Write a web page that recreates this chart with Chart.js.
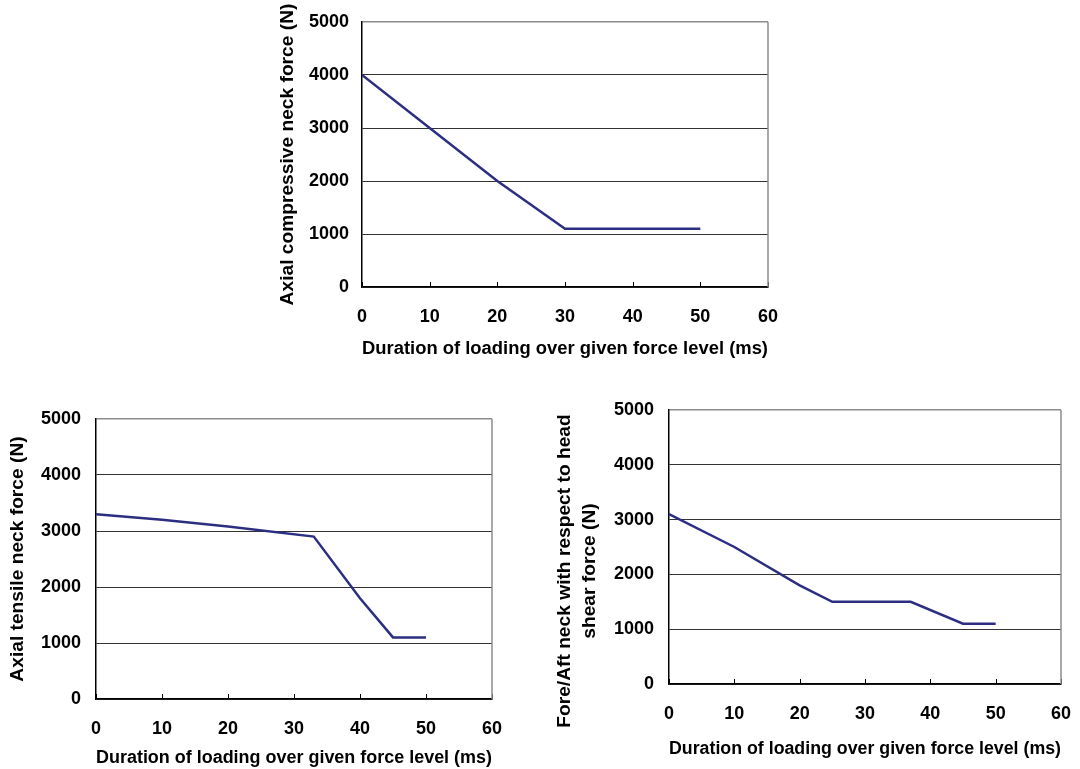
<!DOCTYPE html>
<html>
<head>
<meta charset="utf-8">
<script src="https://cdn.jsdelivr.net/npm/chart.js@4.4.1/dist/chart.umd.min.js"></script>
<style>
    body { margin: 0; background: #fff; width: 1080px; height: 769px; overflow: hidden; position: relative; }
    .box { position: absolute; }
</style>
</head>
<body>
<div class="box" style="left:270px; top:0px; width:510px; height:370px;"><canvas id="chart-comp"></canvas></div>
<div class="box" style="left:0px; top:390px; width:520px; height:379px;"><canvas id="chart-tens"></canvas></div>
<div class="box" style="left:550px; top:390px; width:530px; height:379px;"><canvas id="chart-shear"></canvas></div>
<script>
const xTicks = [0, 10, 20, 30, 40, 50, 60];
const yTicks = [0, 1000, 2000, 3000, 4000, 5000];

const compX = [0, 10, 20, 30, 40, 50];
const compY = [4000, 3000, 2000, 1100, 1100, 1100];

const tensX = [0, 10, 20, 33, 40, 45, 50];
const tensY = [3300, 3200, 3080, 2900, 1800, 1100, 1100];

const shearX = [0, 10, 20, 25, 37, 45, 50];
const shearY = [3100, 2500, 1800, 1500, 1500, 1100, 1100];

const xTitle = 'Duration of loading over given force level (ms)';
const lineColor = '#2c2e82';
const fontFamily = '"Liberation Sans", Arial, sans-serif';

// tick marks pointing into the plot + grey right border
const framePlugin = {
    id: 'frame',
    afterDraw(chart) {
        const { ctx, chartArea: a, scales } = chart;
        ctx.save();
        ctx.strokeStyle = '#000';
        ctx.lineWidth = 1;
        xTicks.forEach(v => {
            const px = Math.round(scales.x.getPixelForValue(v)) + 0.5;
            ctx.beginPath();
            ctx.moveTo(px, a.bottom);
            ctx.lineTo(px, a.bottom - 5);
            ctx.stroke();
        });
        ctx.strokeStyle = '#8c8c8c';
        ctx.lineWidth = 1.5;
        ctx.beginPath();
        ctx.moveTo(a.right, a.top);
        ctx.lineTo(a.right, a.bottom);
        ctx.stroke();

        // y title drawn by hand when it is not centred on the plot
        const st = chart.options.sideTitle;
        if (st) {
            ctx.fillStyle = '#000';
            ctx.font = 'bold 19.2px ' + fontFamily;
            ctx.textAlign = 'center';
            ctx.textBaseline = 'middle';
            st.lines.forEach((t, i) => {
                ctx.save();
                ctx.translate(st.x + i * st.gap, st.y);
                ctx.rotate(-Math.PI / 2);
                ctx.fillText(t, 0, 0);
                ctx.restore();
            });
        }
        ctx.restore();
    }
};

// keep chart area fixed: no extra room for overflowing tick labels
function noOverflow(s) {
    s.paddingLeft = 0; s.paddingRight = 0;
    s.paddingTop = 0; s.paddingBottom = 0;
}

function makeChart(id, xs, ys, yTitle, lay) {
    const ctx = document.getElementById(id).getContext('2d');
    return new Chart(ctx, {
        type: 'line',
        data: {
            datasets: [{
                data: xs.map((x, i) => ({ x: x, y: ys[i] })),
                borderColor: lineColor,
                borderWidth: 2.5,
                pointRadius: 0,
                tension: 0,
                fill: false
            }]
        },
        options: {
            responsive: true,
            maintainAspectRatio: false,
            animation: false,
            sideTitle: lay.side || null,
            layout: { padding: { top: lay.top, right: lay.right, left: 0, bottom: 0 } },
            plugins: { legend: { display: false }, tooltip: { enabled: false } },
            scales: {
                x: {
                    type: 'linear',
                    min: 0, max: 60,
                    afterBuildTicks: s => { s.ticks = xTicks.map(v => ({ value: v })); },
                    afterFit: s => { s.height = lay.xh; noOverflow(s); },
                    grid: { drawOnChartArea: false, drawTicks: false },
                    border: { color: '#000', width: 1.5 },
                    ticks: {
                        color: '#000', padding: 19, maxRotation: 0,
                        callback: v => String(v),
                        font: { family: fontFamily, size: 18, weight: 'bold' }
                    },
                    title: {
                        display: true, text: xTitle, color: '#000',
                        padding: { top: 0, bottom: lay.xtPad },
                        font: { family: fontFamily, size: 19.2, weight: 'bold', lineHeight: 1.2 }
                    }
                },
                y: {
                    min: 0, max: 5000,
                    afterBuildTicks: s => { s.ticks = yTicks.map(v => ({ value: v })); },
                    afterFit: s => { s.width = lay.yw; noOverflow(s); },
                    grid: {
                        drawTicks: false,
                        color: c => c.tick && c.tick.value === 5000 ? '#8c8c8c' : '#333',
                        lineWidth: c => c.tick && c.tick.value === 5000 ? 1.5 : 1
                    },
                    border: { color: '#000', width: 1.5 },
                    ticks: {
                        color: '#000', padding: lay.ytick,
                        callback: v => String(v),
                        font: { family: fontFamily, size: 18, weight: 'bold' }
                    },
                    title: {
                        display: !lay.side, text: yTitle, color: '#000',
                        padding: { top: lay.ytPad, bottom: 0 },
                        font: { family: fontFamily, size: 19.2, weight: 'bold', lineHeight: 1.2 }
                    }
                }
            }
        },
        plugins: [framePlugin]
    });
}

makeChart('chart-comp', compX, compY, 'Axial compressive neck force (N)',
    { top: 22, right: 12, xh: 83, yw: 92, xtPad: 10, ytPad: 6, ytick: 13 });
makeChart('chart-tens', tensX, tensY, 'Axial tensile neck force (N)',
    { top: 29, right: 28, xh: 70, yw: 96, xtPad: 0, ytPad: 6, ytick: 15 });
makeChart('chart-shear', shearX, shearY, '',
    { top: 20, right: 19, xh: 85, yw: 119, xtPad: 9, ytick: 15,
      side: { lines: ['Fore/Aft neck with respect to head', 'shear force (N)'], x: 15, y: 181, gap: 25 } });
</script>
</body>
</html>
